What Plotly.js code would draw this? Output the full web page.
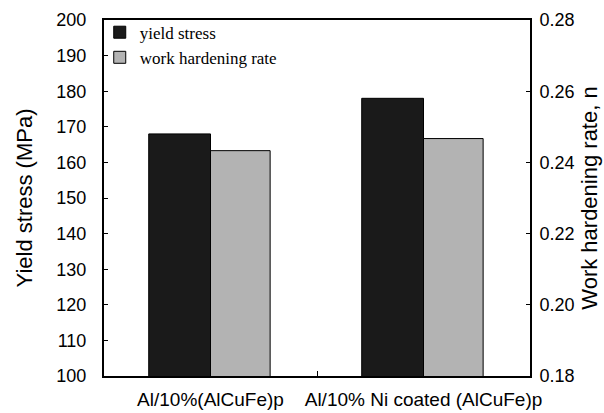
<!DOCTYPE html>
<html>
<head>
<meta charset="utf-8">
<script src="https://cdn.plot.ly/plotly-3.0.1.min.js"></script>
<style>html,body{margin:0;padding:0;background:#fff;}#chart{width:604px;height:413px;}</style>
</head>
<body>
<div id="chart"></div>
<script>
const categories = ["Al/10%(AlCuFe)p", "Al/10% Ni coated (AlCuFe)p"];
const yieldStress = [168, 178];
const workHardening = [0.2433, 0.2467];
const leftTicks = [100, 110, 120, 130, 140, 150, 160, 170, 180, 190, 200];
const rightTicks = [0.18, 0.20, 0.22, 0.24, 0.26, 0.28];

const traces = [
  {
    type: "bar", name: "yield stress", x: categories, y: yieldStress,
    yaxis: "y", width: 0.29, offset: -0.29,
    marker: {color: "#1a1a1a", line: {color: "#000", width: 1}}
  },
  {
    type: "bar", name: "work hardening rate", x: categories, y: workHardening,
    yaxis: "y2", width: 0.28, offset: 0,
    marker: {color: "#b3b3b3", line: {color: "#000", width: 1}}
  }
];

const sans = "Liberation Sans, Arial, sans-serif";
const tickFont = {family: sans, size: 18, color: "#000"};
const layout = {
  width: 604, height: 413,
  margin: {l: 104, r: 74, t: 20, b: 37},
  paper_bgcolor: "#fff", plot_bgcolor: "#fff",
  showlegend: true,
  legend: {x: -0.01, y: 1.015, xanchor: "left", yanchor: "top", bgcolor: "rgba(0,0,0,0)",
    font: {family: "Liberation Serif, Times New Roman, serif", size: 17, color: "#000"},
    tracegroupgap: 0, itemwidth: 30},
  xaxis: {
    type: "category", range: [-0.5, 1.5], showline: true, linecolor: "#000", linewidth: 2,
    mirror: true, ticks: "inside", ticklen: 5, tickson: "boundaries", tickcolor: "#000",
    showgrid: false, tickfont: {family: sans, size: 19, color: "#000"}, tickangle: 0,
    ticklabelstandoff: 5, zeroline: false, automargin: false
  },
  yaxis: {
    range: [100, 200], tickvals: leftTicks, ticks: "inside", ticklen: 4, tickcolor: "#000",
    showline: true, linecolor: "#000", linewidth: 2, showgrid: false, zeroline: false,
    tickfont: tickFont, ticklabelstandoff: 12,
    title: {text: "Yield stress (MPa)", font: {family: sans, size: 22, color: "#000"}, standoff: 18}
  },
  yaxis2: {
    range: [0.18, 0.28], tickvals: rightTicks, tickformat: ".2f", overlaying: "y", side: "right",
    ticks: "inside", ticklen: 4, tickcolor: "#000", showline: true, linecolor: "#000", linewidth: 2,
    showgrid: false, zeroline: false, tickfont: tickFont, ticklabelstandoff: 4,
    title: {text: "Work hardening rate, n", font: {family: sans, size: 22, color: "#000"}, standoff: 8}
  }
};

Plotly.newPlot("chart", traces, layout, {displayModeBar: false, staticPlot: true});
</script>
</body>
</html>
